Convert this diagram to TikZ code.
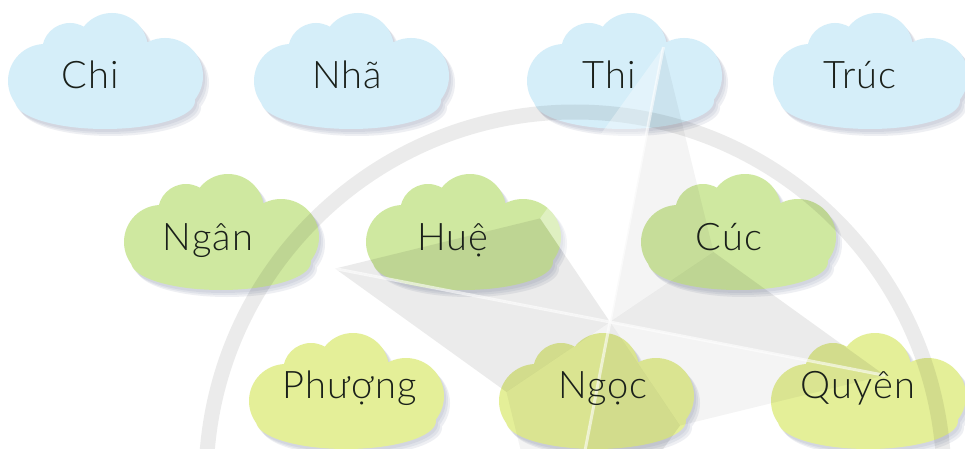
\documentclass[tikz,border=0pt]{standalone}
\usepackage{fontspec}
\setmainfont{Lato}[UprightFont={* Light}, LetterSpace=3]
\definecolor{cblue}{HTML}{D5EEF9}
\definecolor{cgreen}{HTML}{CFE8A0}
\definecolor{cyel}{HTML}{E4EF98}
\definecolor{shad}{HTML}{8A93AE}
\definecolor{txt}{HTML}{1A201A}
\newcommand\cloudpath{(-61,10) circle [radius=37] (-36,-20) circle [radius=28] (6,-22) circle [radius=36] (59,5) circle [radius=38] (-1,30) ellipse [x radius=90, y radius=28]}
\newcommand\drawcloud[3]{%
  \begin{scope}[shift={(#1,#2)}]
    \foreach \s in {2,4,6} {\fill[shad, opacity=0.14, shift={(\s,\s+1)}] \cloudpath;}
    \fill[#3] \cloudpath;
  \end{scope}}
\tikzset{
  lbl/.style={anchor=base, text=txt, inner sep=0pt, font=\fontsize{38}{41}\selectfont},
  lightfacet/.style={fill=black, opacity=0.045},
  darkfacet/.style={fill=black, opacity=0.08},
  toplight/.style={fill=white, opacity=0.35},
  sepline/.style={draw=white, opacity=0.6, line width=3pt},
  ringstyle/.style={draw=black, opacity=0.08, line width=15pt},
}
\begin{document}
\begin{tikzpicture}[x=1pt, y=-1pt]
\useasboundingbox (0,0) rectangle (965,449);
\clip (0,0) rectangle (965,449);
\fill[white] (0,0) rectangle (965,449);
% clouds
\drawcloud{106}{71}{cblue}
\drawcloud{352}{71}{cblue}
\drawcloud{625}{71}{cblue}
\drawcloud{871}{71}{cblue}
\drawcloud{222}{232}{cgreen}
\drawcloud{464}{232}{cgreen}
\drawcloud{739}{232}{cgreen}
\drawcloud{347}{391}{cyel}
\drawcloud{597}{391}{cyel}
\drawcloud{869}{391}{cyel}
% watermark
\coordinate (wc) at (610,322);
\coordinate (wt) at (663.4,47.1);
\coordinate (wr) at (884.9,375.4);
\coordinate (wb) at (556.6,596.9);
\coordinate (wl) at (335.1,268.6);
\coordinate (wtr) at (713.6,252.1);
\coordinate (wbr) at (679.9,425.6);
\coordinate (wbl) at (506.4,391.9);
\coordinate (wtl) at (540.1,218.4);
\coordinate (rc) at (575,481);
\draw[ringstyle] (rc) circle [radius=369];
\fill[toplight] (wc) -- (wt) -- (wtl) -- cycle;
\fill[darkfacet] (wc) -- (wtl) -- (wl) -- cycle;
\fill[lightfacet] (wc) -- (wt) -- (wtr) -- cycle;
\fill[darkfacet] (wc) -- (wtr) -- (wr) -- cycle;
\fill[lightfacet] (wc) -- (wr) -- (wbr) -- cycle;
\fill[darkfacet] (wc) -- (wbr) -- (wb) -- cycle;
\fill[lightfacet] (wc) -- (wb) -- (wbl) -- cycle;
\fill[darkfacet] (wc) -- (wbl) -- (wl) -- cycle;
\draw[sepline] (wc) -- (wt);
\draw[sepline] (wc) -- (wr);
\draw[sepline] (wc) -- (wb);
\draw[sepline] (wc) -- (wl);
% labels
\node[lbl] (chi) at (90,89) {Chi};
\node[lbl] (nha) at (347,89) {Nhã};
\node[lbl] (thi) at (609,89) {Thi};
\node[lbl] (truc) at (860,89) {Trúc};
\node[lbl] (ngan) at (208,250) {Ngân};
\node[lbl] (hue) at (453,250) {Huệ};
\node[lbl] (cuc) at (729,250) {Cúc};
\node[lbl] (phuong) at (350,398) {Phượng};
\node[lbl] (ngoc) at (603,398) {Ngọc};
\node[lbl] (quyen) at (858,398) {Quyên};
\end{tikzpicture}
\end{document}
